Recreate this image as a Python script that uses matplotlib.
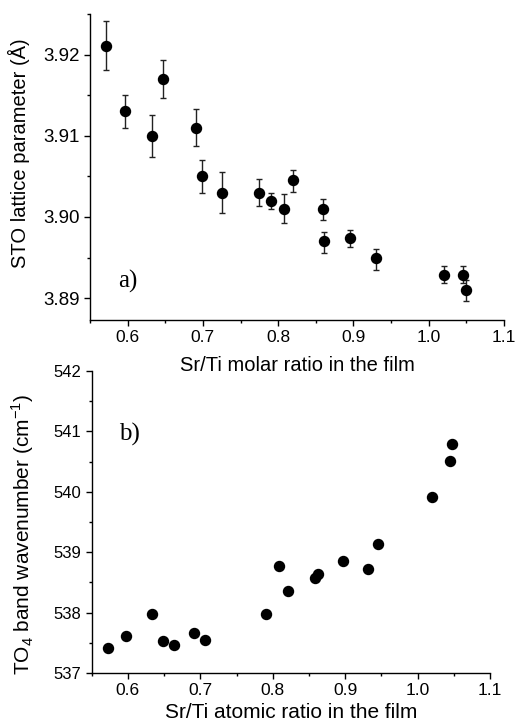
import matplotlib
matplotlib.use("Agg")
import matplotlib.pyplot as plt
from matplotlib.ticker import MultipleLocator, FormatStrFormatter

plt.rcParams['font.family'] = ['Liberation Sans', 'DejaVu Sans']
plt.rcParams['mathtext.fontset'] = 'custom'
plt.rcParams['mathtext.rm'] = 'Liberation Sans'

# panel a) lattice parameter vs Sr/Ti molar ratio
ratio_a = [0.571, 0.596, 0.632, 0.6465, 0.691, 0.699, 0.726, 0.774, 0.790,
           0.8076, 0.820, 0.859, 0.8607, 0.896, 0.930, 1.0197, 1.0457, 1.049]
lattice = [3.9210, 3.9130, 3.9100, 3.9170, 3.9110, 3.9050, 3.9030, 3.9030, 3.9020,
           3.9010, 3.9045, 3.9010, 3.8970, 3.8974, 3.8949, 3.8929, 3.8929, 3.8910]
err_top = [3.9242, 3.9150, 3.9126, 3.9193, 3.9133, 3.9070, 3.9055, 3.9047, 3.9029,
           3.9028, 3.9058, 3.9022, 3.8982, 3.8984, 3.8961, 3.8939, 3.8939, 3.8922]
err_bot = [3.9181, 3.9110, 3.9074, 3.9147, 3.9088, 3.9029, 3.9005, 3.9014, 3.9010,
           3.8992, 3.9031, 3.8996, 3.8956, 3.8963, 3.8935, 3.8918, 3.8919, 3.8896]

# panel b) TO4 band wavenumber vs Sr/Ti atomic ratio
ratio_b = [0.573, 0.598, 0.633, 0.648, 0.664, 0.691, 0.706, 0.791, 0.809,
           0.821, 0.859, 0.862, 0.897, 0.931, 0.946, 1.0195, 1.045, 1.048]
wavenum = [537.41, 537.62, 537.97, 537.53, 537.46, 537.66, 537.55, 537.97, 538.77,
           538.36, 538.57, 538.64, 538.86, 538.72, 539.14, 539.91, 540.51, 540.79]

yerr = [[v - b for v, b in zip(lattice, err_bot)],
        [t - v for v, t in zip(lattice, err_top)]]

fig = plt.figure(figsize=(5.16, 7.26), dpi=100)
ax1 = fig.add_axes([0.1744, 0.5592, 0.8023, 0.4215])
ax2 = fig.add_axes([0.1777, 0.0730, 0.7719, 0.4160])
ax2.patch.set_alpha(0)

ax1.errorbar(ratio_a, lattice, yerr=yerr, fmt='o', color='black', ecolor='#222222',
             ms=7.2, elinewidth=1, capsize=2, capthick=1)
ax2.plot(ratio_b, wavenum, 'o', color='black', ms=7.2)

for ax in (ax1, ax2):
    ax.spines['top'].set_visible(False)
    ax.spines['right'].set_visible(False)
    for s in ('left', 'bottom'):
        ax.spines[s].set_linewidth(1.0)
    ax.set_xlim(0.55, 1.1)
    ax.xaxis.set_major_locator(MultipleLocator(0.1))
    ax.xaxis.set_minor_locator(MultipleLocator(0.05))
    ax.xaxis.set_major_formatter(FormatStrFormatter('%.1f'))
    ax.tick_params(which='major', direction='out', length=4, width=1)
    ax.tick_params(which='minor', direction='out', length=2.5, width=1)
    ax.tick_params(axis='x', which='major', labelsize=12.5)

ax1.set_ylim(3.8873, 3.925)
ax1.yaxis.set_major_locator(MultipleLocator(0.01))
ax1.yaxis.set_minor_locator(MultipleLocator(0.005))
ax1.yaxis.set_major_formatter(FormatStrFormatter('%.2f'))
ax1.tick_params(axis='y', which='major', labelsize=13.5)
ax1.set_xlabel('Sr/Ti molar ratio in the film', fontsize=14.5)
ax1.set_ylabel('STO lattice parameter (Å)', fontsize=14.5)
ax1.xaxis.set_label_coords(0.5, -0.118)
ax1.yaxis.set_label_coords(-0.144, 0.546)
ax1.text(0.092, 0.127, 'a)', transform=ax1.transAxes, fontsize=18,
         family='Liberation Serif', ha='center', va='center')

ax2.set_ylim(537, 542)
ax2.yaxis.set_major_locator(MultipleLocator(1))
ax2.yaxis.set_minor_locator(MultipleLocator(0.5))
ax2.yaxis.set_major_formatter(FormatStrFormatter('%d'))
ax2.tick_params(axis='y', which='major', labelsize=12)
ax2.set_xlabel('Sr/Ti atomic ratio in the film', fontsize=15)
ax2.set_ylabel('TO$_4$ band wavenumber (cm$^{-1}$)', fontsize=15)
ax2.xaxis.set_label_coords(0.5, -0.099)
ax2.yaxis.set_label_coords(-0.14, 0.46)
ax2.text(0.094, 0.79, 'b)', transform=ax2.transAxes, fontsize=18,
         family='Liberation Serif', ha='center', va='center')

fig.savefig('out.png', dpi=100)
